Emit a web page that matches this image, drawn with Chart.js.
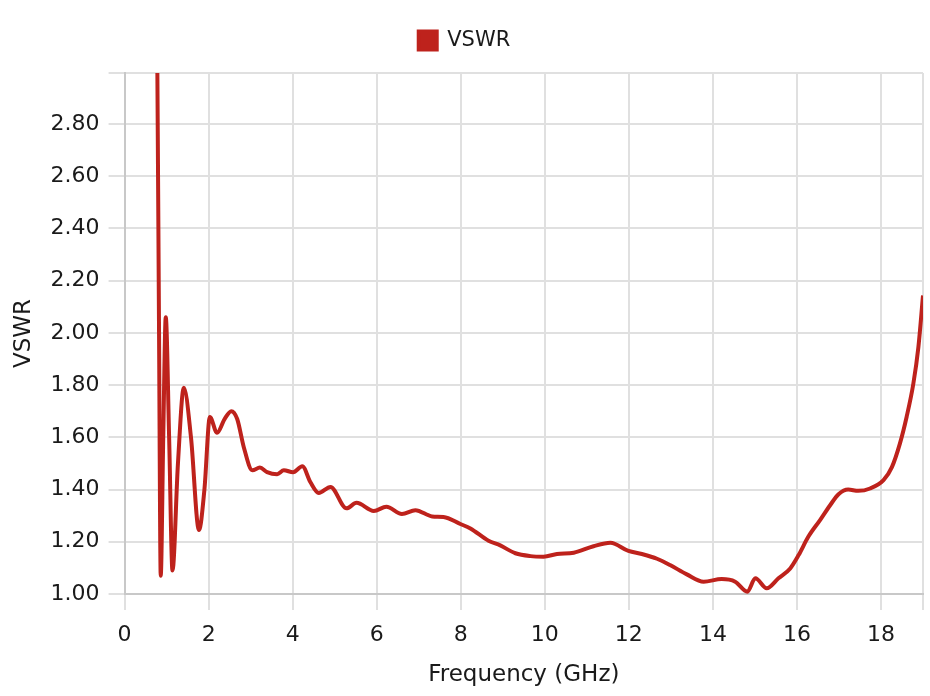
<!DOCTYPE html>
<html>
<head>
<meta charset="utf-8">
<title>VSWR</title>
<script src="https://cdn.jsdelivr.net/npm/chart.js@4"></script>
<style>
    html, body { margin: 0; padding: 0; background: #fff; }
    #wrap { width: 930px; height: 696px; }
</style>
</head>
<body>
<div id="wrap"><canvas id="vswrChart" width="930" height="696"></canvas></div>
<script>
// Frequency points (GHz)
const frequency = [
    0.74, 0.78, 0.82, 0.86, 0.92, 0.98, 1.06, 1.14, 1.27, 1.41, 1.58, 1.77, 1.9, 2.03, 2.2, 2.38, 2.54,
    2.68, 2.84, 3.04, 3.22, 3.39, 3.63, 3.79, 4.01, 4.23, 4.42, 4.62, 4.9, 5.28, 5.52, 5.93,
    6.23, 6.6, 6.92, 7.32, 7.59, 7.99, 8.23, 8.66, 8.94, 9.3, 9.66, 9.97, 10.29, 10.69,
    11.16, 11.56, 11.99, 12.31, 12.67, 12.98, 13.38, 13.78, 14.21, 14.53, 14.82, 15.01,
    15.28, 15.56, 15.84, 16.04, 16.27, 16.55, 16.79, 16.99, 17.22, 17.46, 17.74, 18.06,
    18.26, 18.45, 18.61, 18.77, 18.89, 19.0
];

// VSWR values at those frequencies
const vswr = [
    3.6, 3.0, 2.0, 1.07, 1.6, 2.06, 1.6, 1.09, 1.5, 1.79, 1.6, 1.245, 1.4, 1.678, 1.617, 1.67, 1.70,
    1.67, 1.56, 1.474, 1.484, 1.467, 1.459, 1.474, 1.466, 1.489, 1.429, 1.387, 1.41, 1.328, 1.349, 1.318,
    1.334, 1.306, 1.321, 1.297, 1.295, 1.268, 1.251, 1.204, 1.186, 1.156, 1.145, 1.143, 1.153, 1.158,
    1.183, 1.196, 1.165, 1.153, 1.135, 1.111, 1.075, 1.047, 1.057, 1.047, 1.009, 1.06,
    1.022, 1.06, 1.098, 1.149, 1.219, 1.283, 1.34, 1.382, 1.40, 1.395, 1.404, 1.436,
    1.486, 1.576, 1.678, 1.805, 1.945, 2.143
];

const lineColor = 'rgb(190, 34, 28)';
const textColor = '#1a1a1a';
const fontFamily = '"DejaVu Sans", sans-serif';

// Adds extra room under the legend so the plot starts lower
const legendGap = {
    id: 'legendGap',
    beforeInit(chart) {
        const fit = chart.legend.fit;
        chart.legend.fit = function () {
            fit.call(this);
            this.height += 12;
        };
    }
};

function initializeChart() {
    const ctx = document.getElementById('vswrChart').getContext('2d');

    const points = frequency.map((f, i) => ({ x: f, y: vswr[i] }));

    return new Chart(ctx, {
        type: 'line',
        data: {
            datasets: [
                {
                    label: 'VSWR',
                    data: points,
                    borderColor: lineColor,
                    backgroundColor: lineColor,
                    borderWidth: 4,
                    pointRadius: 0,
                    cubicInterpolationMode: 'monotone',
                    fill: false,
                }
            ]
        },
        options: {
            responsive: false,
            animation: false,
            layout: {
                padding: { top: 20, right: 7, left: 6, bottom: 1 }
            },
            plugins: {
                legend: {
                    position: 'top',
                    labels: {
                        boxWidth: 18,
                        boxHeight: 18,
                        color: textColor,
                        font: { family: fontFamily, size: 21 },
                    },
                },
                tooltip: { enabled: false },
            },
            scales: {
                x: {
                    type: 'linear',
                    min: 0,
                    max: 19,
                    grid: { color: '#e0e0e0', lineWidth: 2, tickLength: 16 },
                    border: { color: '#c8c8c8', width: 2 },
                    ticks: {
                        stepSize: 2,
                        color: textColor,
                        padding: 12,
                        font: { family: fontFamily, size: 22 },
                        callback: value => (value % 2 === 0 ? value : ''),
                    },
                    title: {
                        display: true,
                        text: 'Frequency (GHz)',
                        color: textColor,
                        padding: { top: 1, bottom: 6 },
                        font: { family: fontFamily, size: 23 },
                    },
                    // no extra space on the right for the (hidden) last label
                    afterFit: scale => { scale.paddingRight = 0; },
                },
                y: {
                    min: 1,
                    max: 2.995,
                    grid: { color: '#e0e0e0', lineWidth: 2, tickLength: 16 },
                    border: { color: '#c8c8c8', width: 2 },
                    ticks: {
                        stepSize: 0.2,
                        color: textColor,
                        padding: 9,
                        font: { family: fontFamily, size: 22 },
                        callback: value => (value > 2.9 ? '' : value.toFixed(2)),
                    },
                    title: {
                        display: true,
                        text: 'VSWR',
                        color: textColor,
                        font: { family: fontFamily, size: 23 },
                    },
                },
            },
        },
        plugins: [legendGap],
    });
}

document.addEventListener('DOMContentLoaded', function () {
    initializeChart();
});
</script>
</body>
</html>
